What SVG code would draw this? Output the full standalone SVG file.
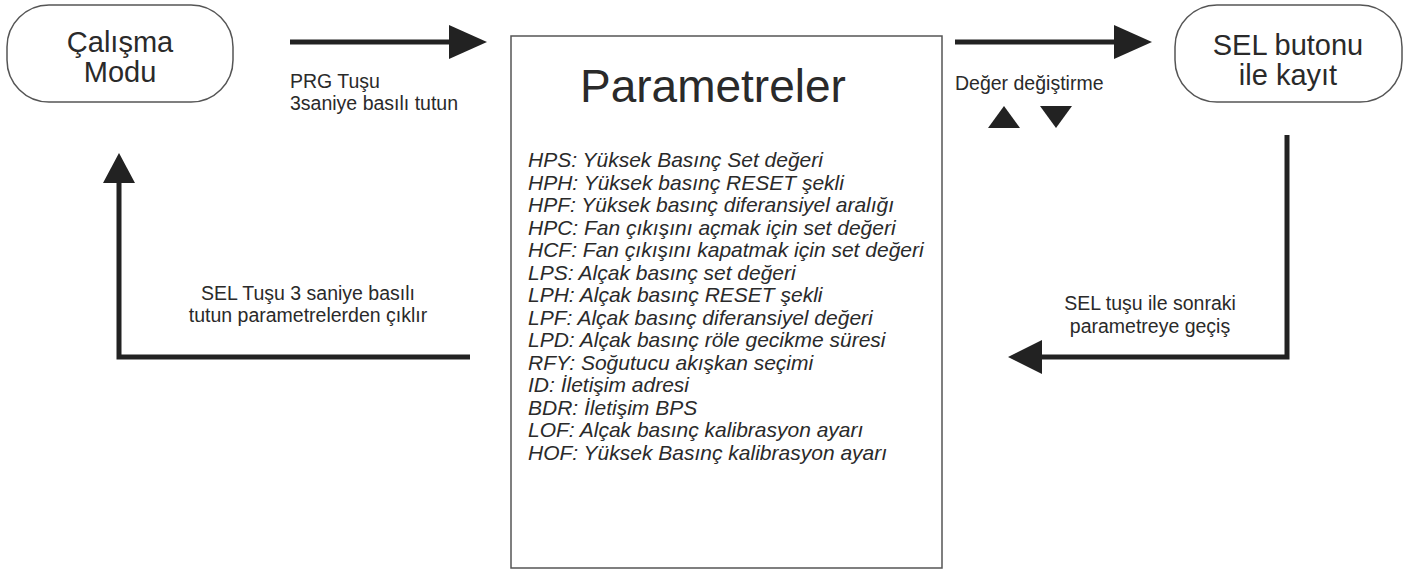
<svg xmlns="http://www.w3.org/2000/svg" width="1418" height="572" viewBox="0 0 1418 572">
<style>
.node{fill:#fff;stroke:#555;stroke-width:1.5}
.t{font-family:"Liberation Sans",Arial,sans-serif;fill:#2a2a2a}
.big{font-size:29px;text-anchor:middle}
.lbl{font-size:19.5px}
.item{font-size:21px;font-style:italic}
.ln{fill:none;stroke:#222;stroke-width:5}
.hd{fill:#222}
</style>
<rect width="1418" height="572" fill="#fff"/>
<g id="calisma">
<rect class="node" x="7" y="5" width="226" height="97" rx="42" ry="42"/>
<text class="t big" x="120" y="52">Çalışma</text>
<text class="t big" x="120" y="82">Modu</text>
</g>
<g id="parametreler">
<rect class="node" x="511" y="36" width="431" height="532"/>
<text class="t" x="580" y="102" font-size="46">Parametreler</text>
<g class="t item">
<text x="528" y="167">HPS: Yüksek Basınç Set değeri</text>
<text x="528" y="189.5">HPH: Yüksek basınç RESET şekli</text>
<text x="528" y="212">HPF: Yüksek basınç diferansiyel aralığı</text>
<text x="528" y="234.5">HPC: Fan çıkışını açmak için set değeri</text>
<text x="528" y="257">HCF: Fan çıkışını kapatmak için set değeri</text>
<text x="528" y="279.5">LPS: Alçak basınç set değeri</text>
<text x="528" y="302">LPH: Alçak basınç RESET şekli</text>
<text x="528" y="324.5">LPF: Alçak basınç diferansiyel değeri</text>
<text x="528" y="347">LPD: Alçak basınç röle gecikme süresi</text>
<text x="528" y="369.5">RFY: Soğutucu akışkan seçimi</text>
<text x="528" y="392">ID: İletişim adresi</text>
<text x="528" y="414.5">BDR: İletişim BPS</text>
<text x="528" y="437">LOF: Alçak basınç kalibrasyon ayarı</text>
<text x="528" y="459.5">HOF: Yüksek Basınç kalibrasyon ayarı</text>
</g>
</g>
<g id="sel">
<rect class="node" x="1175" y="5" width="227" height="97" rx="42" ry="42"/>
<text class="t big" x="1288" y="55">SEL butonu</text>
<text class="t big" x="1288" y="85">ile kayıt</text>
</g>
<g id="connectors">
<line class="ln" x1="290" y1="42" x2="455" y2="42"/>
<polygon class="hd" points="449,25 487,42 449,59"/>
<text class="t lbl" x="290" y="88">PRG Tuşu</text>
<text class="t lbl" x="290" y="110">3saniye basılı tutun</text>
<line class="ln" x1="955" y1="42" x2="1120" y2="42"/>
<polygon class="hd" points="1114,25 1152,42 1114,59"/>
<text class="t lbl" x="955" y="90" font-size="17">Değer değiştirme</text>
<polygon class="hd" points="988,128 1004,106 1020,128"/>
<polygon class="hd" points="1040,106 1072,106 1056,128"/>
<polyline class="ln" points="1287,135 1287,357 1038,357"/>
<polygon class="hd" points="1042,340 1008,357 1042,374"/>
<text class="t lbl" x="1150" y="310" text-anchor="middle">SEL tuşu ile sonraki</text>
<text class="t lbl" x="1150" y="333" text-anchor="middle">parametreye geçiş</text>
<polyline class="ln" points="470,357 119,357 119,180"/>
<polygon class="hd" points="103,183 119,153 135,183"/>
<text class="t lbl" x="308" y="300" text-anchor="middle">SEL Tuşu 3 saniye basılı</text>
<text class="t lbl" x="308" y="322" text-anchor="middle">tutun parametrelerden çıklır</text>
</g>
</svg>
